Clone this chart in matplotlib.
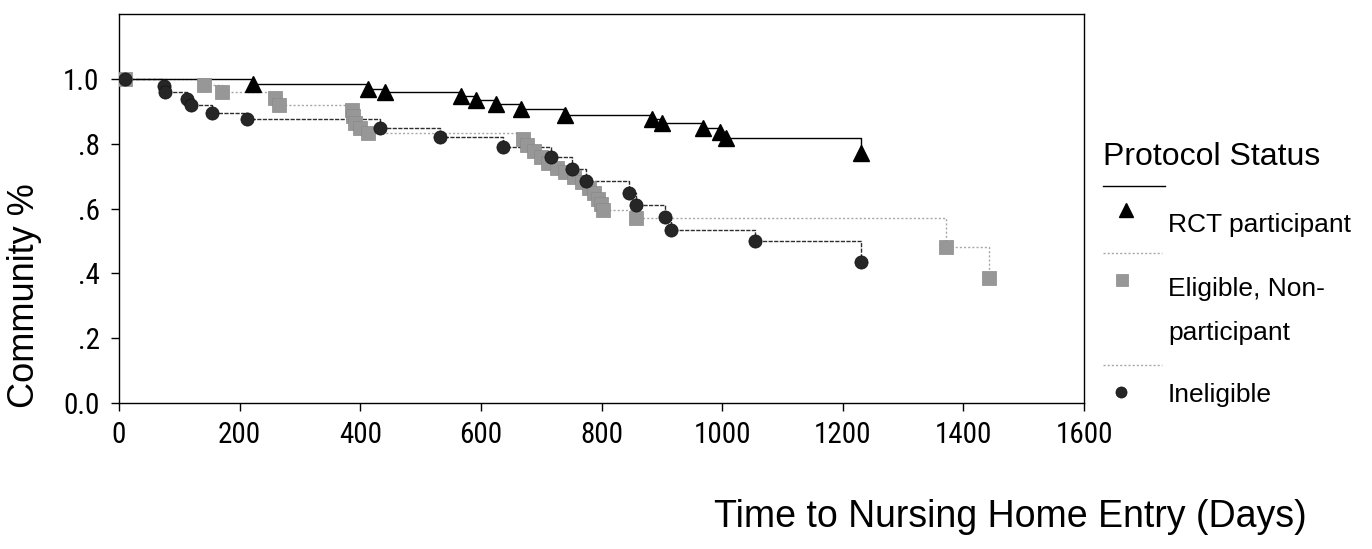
import matplotlib
matplotlib.use("Agg")
import matplotlib.pyplot as plt
from matplotlib.lines import Line2D

plt.rcParams['font.family'] = ['Liberation Sans', 'DejaVu Sans']

# ---- data ----
rct_days = [222, 413, 441, 567, 592, 625, 666, 740, 883, 901, 969, 997, 1006, 1231]
rct_surv = [0.985, 0.970, 0.961, 0.948, 0.936, 0.923, 0.906, 0.890, 0.877, 0.863,
            0.849, 0.835, 0.817, 0.770]

elig_days = [10, 141, 170, 258, 266, 386, 388, 392, 400, 413, 670, 676, 688, 700, 712,
             726, 740, 755, 767, 779, 787, 794, 799, 803, 858, 1372, 1442]
elig_surv = [1.0, 0.981, 0.961, 0.940, 0.920, 0.905, 0.885, 0.865, 0.848, 0.832, 0.815,
             0.797, 0.778, 0.760, 0.742, 0.726, 0.712, 0.697, 0.681, 0.664, 0.647, 0.630,
             0.613, 0.596, 0.570, 0.482, 0.385]

inel_days = [10, 75, 76, 112, 120, 155, 212, 433, 532, 637, 717, 751, 774, 846, 858,
             906, 915, 1055, 1231]
inel_surv = [1.0, 0.978, 0.961, 0.937, 0.920, 0.896, 0.876, 0.848, 0.821, 0.791, 0.760,
             0.722, 0.684, 0.649, 0.612, 0.573, 0.535, 0.500, 0.434]

x_ticks = [0, 200, 400, 600, 800, 1000, 1200, 1400, 1600]
y_ticks = [0.0, 0.2, 0.4, 0.6, 0.8, 1.0]
y_tick_labels = ["0.0", ".2", ".4", ".6", ".8", "1.0"]

legend_title = "Protocol Status"
legend_labels = ["RCT participant", "Eligible, Non-\nparticipant", "Ineligible"]
x_title = "Time to Nursing Home Entry (Days)"
y_title = "Community %"

# ---- styles ----
W, H = 1372, 549
def fx(px):
    return px / W
def fy(py):
    return 1 - py / H

rct_style = dict(color='black', lw=1.0, ls='-')
elig_style = dict(color='#a8a8a8', lw=1.0, ls=(0, (1.5, 1.5)))
inel_style = dict(color='#2e2e2e', lw=1.0, ls=(0, (3, 1)))

fig = plt.figure(figsize=(13.72, 5.49), dpi=100)
ax = fig.add_axes([fx(119), fy(402.7), fx(1084) - fx(119), fy(14.3) - fy(402.7)])

ax.step([0] + elig_days, [1.0] + elig_surv, where='post', zorder=2, **elig_style)
ax.step([0] + inel_days, [1.0] + inel_surv, where='post', zorder=2, **inel_style)
ax.step([0] + rct_days, [1.0] + rct_surv, where='post', zorder=2, **rct_style)

ax.plot(elig_days, elig_surv, ls='none', marker='s', ms=10, mfc='#979797', mec='#8a8a8a',
        mew=0.5, zorder=3)
ax.plot(inel_days, inel_surv, ls='none', marker='o', ms=9.5, mfc='#262626', mec='#111111',
        mew=0.5, zorder=4)
ax.plot(rct_days, rct_surv, ls='none', marker='^', ms=12, mfc='black', mec='black', zorder=5)

ax.set_xlim(0, 1600)
ax.set_ylim(0, 1.2)
ax.set_xticks(x_ticks)
ax.set_xticklabels([str(v) for v in x_ticks])
ax.set_yticks(y_ticks)
ax.set_yticklabels(y_tick_labels)
tick_font = ['Roboto Condensed', 'DejaVu Sans']
for lab in ax.get_xticklabels() + ax.get_yticklabels():
    lab.set_family(tick_font)
    lab.set_stretch('condensed')
    lab.set_fontsize(21)
ax.tick_params(axis='x', direction='out', length=6, width=1, pad=7)
ax.tick_params(axis='y', direction='out', length=6, width=1, pad=8)
for s in ax.spines.values():
    s.set_linewidth(1.0)

fig.text(fx(1010), fy(527), x_title, fontsize=27, ha='center', va='baseline')
fig.text(fx(25), fy(296), y_title, fontsize=26, ha='center', va='center', rotation=90)

# ---- legend (hand-placed) ----
fig.text(fx(1103), fy(165), legend_title, fontsize=23, ha='left', va='baseline')
fig.add_artist(Line2D([fx(1103), fx(1165)], [fy(186), fy(186)], transform=fig.transFigure,
                      **rct_style))
fig.add_artist(Line2D([fx(1126)], [fy(210)], transform=fig.transFigure, ls='none',
                      marker='^', ms=10, mfc='black', mec='black'))
fig.text(fx(1168), fy(232), legend_labels[0], fontsize=19, ha='left', va='baseline')

fig.add_artist(Line2D([fx(1103), fx(1162)], [fy(253), fy(253)], transform=fig.transFigure,
                      **elig_style))
fig.add_artist(Line2D([fx(1122)], [fy(280)], transform=fig.transFigure, ls='none',
                      marker='s', ms=8, mfc='#979797', mec='#8a8a8a', mew=0.5))
l1, l2 = legend_labels[1].split("\n")
fig.text(fx(1168), fy(296), l1, fontsize=19, ha='left', va='baseline')
fig.text(fx(1168), fy(340), l2, fontsize=19, ha='left', va='baseline')

fig.add_artist(Line2D([fx(1103), fx(1162)], [fy(365), fy(365)], transform=fig.transFigure,
                      **elig_style))
fig.add_artist(Line2D([fx(1121)], [fy(392)], transform=fig.transFigure, ls='none',
                      marker='o', ms=8, mfc='#262626', mec='#111111', mew=0.5))
fig.text(fx(1168), fy(402), legend_labels[2], fontsize=19, ha='left', va='baseline')

fig.savefig("out.png", dpi=100)
